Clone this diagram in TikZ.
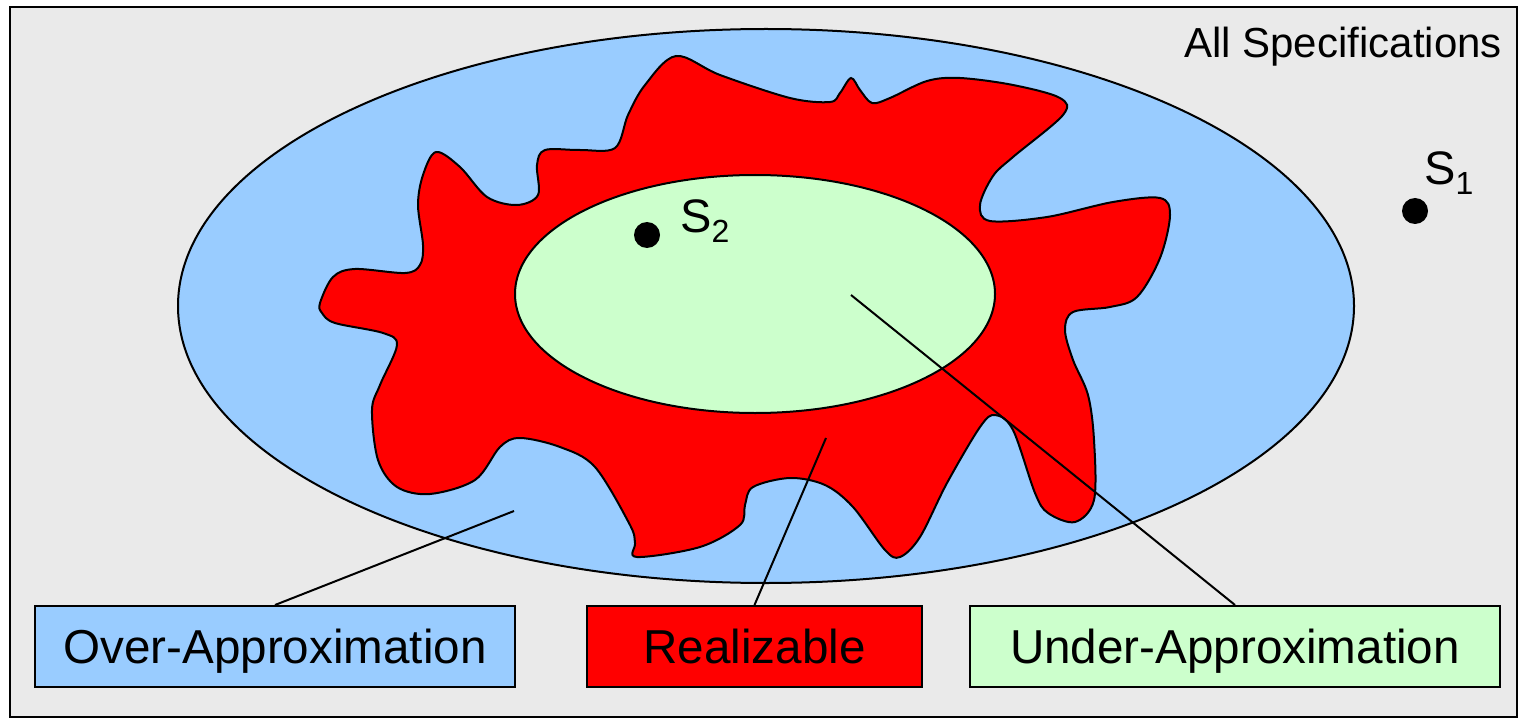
\documentclass[tikz,border=0pt]{standalone}
\usepackage{fontspec}
\setmainfont{Liberation Sans}
\usetikzlibrary{shapes.geometric}
\definecolor{bgc}{HTML}{EAEAEA}
\definecolor{overc}{HTML}{99CCFF}
\definecolor{realc}{HTML}{FF0000}
\definecolor{underc}{HTML}{CCFFCC}
\newcommand{\subnum}[1]{\raisebox{-10pt}{\fontsize{32}{32}\selectfont #1}}
\tikzset{
  region/.style={ellipse, draw, line width=2pt, inner sep=0pt},
  labelbox/.style={rectangle, draw, line width=2pt, inner sep=0pt, minimum height=81pt,
    text height=34pt, text depth=0pt, font=\fontsize{47.6}{57}\selectfont},
  leader/.style={line width=2pt},
  specdot/.style={circle, fill=black, inner sep=0pt, minimum size=26pt},
  speclabel/.style={inner sep=0pt, font=\fontsize{47}{56}\selectfont}
}
\begin{document}
\begin{tikzpicture}[x=1pt,y=-1pt]
\useasboundingbox (0,0) rectangle (1523,722);
\node[draw, line width=2pt, fill=bgc, minimum width=1507pt, minimum height=710pt, inner sep=0pt] (all) at (763.5,362) {};
\node[anchor=base east, inner sep=0pt, font=\fontsize{42}{50}\selectfont] (alltxt) at (1502,58) {All Specifications};
\node[region, fill=overc, minimum width=1176pt, minimum height=554pt] (over) at (766,306) {};
\draw[line width=2pt, fill=realc] plot[smooth cycle, tension=0.55] coordinates {
(320,303) (333,277) (355,269) (405,273) (420,265) (423,245) (418,205) (423,175)
(436,152) (460,167) (487,197) (517,205) (538,195) (537,165) (545,150) (580,150)
(615,148) (628,115) (645,85) (676,56) (720,75) (790,98) (830,102) (840,93)
(851,78) (860,90) (872,103) (890,98) (927,81) (960,78) (1013,85) (1060,98)
(1063,115) (1013,157) (993,176) (980,205) (990,221) (1047,217) (1113,202) (1160,198)
(1170,215) (1160,258) (1137,297) (1110,307) (1073,312) (1065,330) (1073,360) (1088,395)
(1094,440) (1094,500) (1075,522) (1048,513) (1035,493) (1013,430) (995,415) (980,427)
(947,483) (920,537) (900,557) (885,550) (853,507) (825,485) (790,478) (753,487)
(745,505) (740,525) (700,547) (637,557) (635,543) (630,525) (595,467) (560,447)
(520,438) (500,447) (475,480) (430,494) (397,487) (378,460) (372,410) (380,385)
(397,345) (383,333) (335,323) (322,313)};
\node[region, fill=underc, minimum width=480pt, minimum height=238pt] (under) at (755,294) {};
\node[specdot] (s2dot) at (647,235) {};
\node[speclabel, anchor=base west] (s2) at (680,233) {S\subnum{2}};
\node[specdot] (s1dot) at (1415,211) {};
\node[speclabel, anchor=base west] (s1) at (1424,185) {S\subnum{1}};
\coordinate (pover) at (514,511);
\coordinate (preal) at (826,438);
\coordinate (punder) at (851,295);
\node[labelbox, fill=overc, minimum width=480pt] (boxover) at (275,646.5) {Over-Approximation};
\node[labelbox, fill=realc, minimum width=335pt] (boxreal) at (754.5,646.5) {Realizable};
\node[labelbox, fill=underc, minimum width=530pt] (boxunder) at (1235,646.5) {Under-Approximation};
\draw[leader] (boxover.north) -- (pover);
\draw[leader] (boxreal.north) -- (preal);
\draw[leader] (boxunder.north) -- (punder);
\end{tikzpicture}
\end{document}
